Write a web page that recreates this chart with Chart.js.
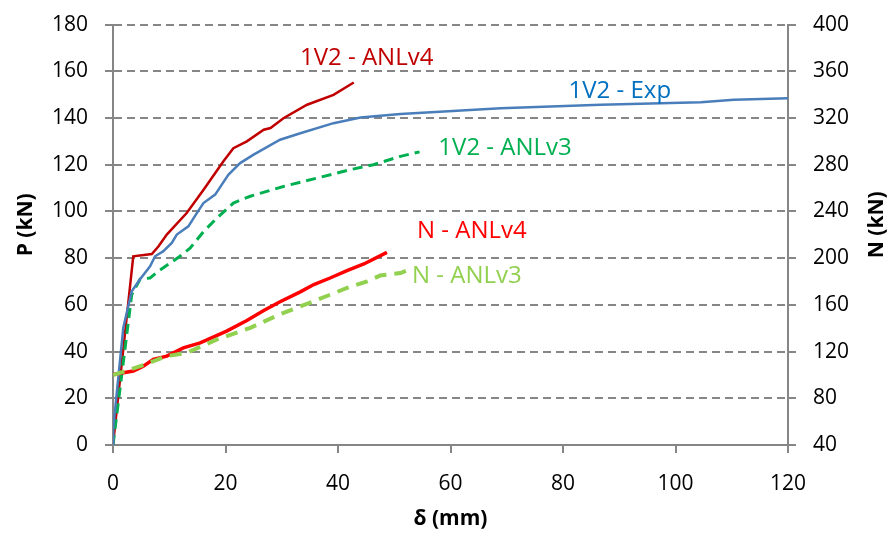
<!DOCTYPE html>
<html>
<head>
<meta charset="utf-8">
<script src="https://cdn.jsdelivr.net/npm/chart.js@4/dist/chart.umd.min.js"></script>
<style>
  html, body { margin: 0; padding: 0; background: #fff; }
  #wrap { width: 891px; height: 533px; position: relative; overflow: hidden; }
  #inner { position: absolute; left: 0; top: -5px; width: 891px; height: 538px; }
</style>
</head>
<body>
<div id="wrap"><div id="inner"><canvas id="chart"></canvas></div></div>
<script>
// P - delta curves (left axis, kN)
const expX = [0, 0.05, 1.83, 3.33, 4.81, 6.59, 7.48, 8.9, 10.45, 11.34, 13.4, 14.9, 16.08, 18.16, 20.5, 22.6, 25, 29.7, 33.3, 39.2, 44, 51.1, 68.9, 86.7, 104.5, 110.4, 120.2];
const expP = [0, 7.4, 50.2, 65.8, 71, 76.5, 80.8, 82.9, 86.5, 90.1, 93.6, 99.3, 103.6, 107.2, 115.7, 120.7, 124.3, 130.7, 133.5, 137.8, 140.2, 141.7, 144.2, 145.7, 146.8, 147.8, 148.5];

const anl4X = [0, 3.6, 6.9, 8.1, 9.56, 13.1, 16.1, 19.6, 21.4, 23.8, 26.8, 28, 30.3, 34.5, 39.2, 42.8];
const anl4P = [0, 80.8, 81.8, 85.1, 90.1, 99.3, 109.3, 121.4, 127.1, 130, 135, 135.7, 139.9, 145.7, 149.9, 155.2];

const anl3X = [0, 3.33, 4.81, 6.59, 8.07, 11.9, 13.7, 16.1, 18.5, 21.4, 24.4, 30.3, 36.3, 42.2, 46.3, 51.1, 54.5];
const anl3P = [0, 64.4, 71, 71.5, 74.4, 80.8, 84.3, 91.4, 97.2, 103.6, 106.5, 110.7, 114.3, 117.9, 120, 123.6, 125.5];

// N - delta curves (right axis, kN)
const nAnl4X = [0, 1.83, 3.61, 5.39, 7.17, 9.56, 12.5, 15.5, 20.2, 23.8, 26.8, 29.7, 33.3, 35.7, 38.6, 41.6, 44.6, 48.7];
const nAnl4N = [100.4, 101.8, 103.3, 107.5, 113.3, 116.1, 123.2, 127.5, 137.5, 146.6, 155.2, 162.7, 171.1, 177.4, 183, 189.4, 195, 205];

const nAnl3X = [0, 5.39, 9.56, 13.1, 18.5, 24.4, 29.7, 35.7, 41.6, 45.2, 47.5, 51.1, 52.6];
const nAnl3N = [99.9, 108.4, 116.1, 118.9, 130.4, 140.3, 152, 163.1, 174.5, 180.2, 185.1, 187.3, 190.2];

// curve labels, anchored in data coordinates (delta, P)
const labelText = ['1V2 - ANLv4', '1V2 - Exp', '1V2 - ANLv3', 'N - ANLv4', 'N - ANLv3'];
const labelX = [45.1, 90.1, 69.7, 63.8, 62.9];
const labelP = [165.5, 151.5, 127.1, 91.7, 72.1];
const labelColor = ['#C00000', '#0070C0', '#00B050', '#FF0000', '#92D050'];

const FONT = '"Open Sans", "DejaVu Sans", sans-serif';
const AXIS = '#868686';

function pts(xs, ys) {
  return xs.map((x, i) => ({ x, y: ys[i] }));
}

const curveLabels = {
  id: 'curveLabels',
  afterDatasetsDraw(chart) {
    const { ctx, scales } = chart;
    ctx.save();
    ctx.font = '24px ' + FONT;
    ctx.textAlign = 'center';
    ctx.textBaseline = 'middle';
    labelText.forEach((t, i) => {
      ctx.fillStyle = labelColor[i];
      ctx.fillText(t, scales.x.getPixelForValue(labelX[i]), scales.y.getPixelForValue(labelP[i]));
    });
    // both axis titles read bottom to top
    ctx.font = 'bold 21px ' + FONT;
    ctx.fillStyle = '#000';
    const mid = (chart.chartArea.top + chart.chartArea.bottom) / 2 - 10;
    [['P (kN)', 26], ['N (kN)', 877]].forEach(([t, x]) => {
      ctx.save();
      ctx.translate(x, mid);
      ctx.rotate(-Math.PI / 2);
      ctx.fillText(t, 0, 0);
      ctx.restore();
    });
    ctx.restore();
  }
};

new Chart(document.getElementById('chart'), {
  type: 'line',
  data: {
    datasets: [
      {
        label: 'N - ANLv3',
        data: pts(nAnl3X, nAnl3N),
        yAxisID: 'y2',
        borderColor: '#92D050',
        borderWidth: 4,
        borderDash: [12, 8],
        pointRadius: 0,
        tension: 0
      },
      {
        label: 'N - ANLv4',
        data: pts(nAnl4X, nAnl4N),
        yAxisID: 'y2',
        borderColor: '#FF0000',
        borderWidth: 3.5,
        pointRadius: 0,
        tension: 0
      },
      {
        label: '1V2 - Exp',
        data: pts(expX, expP),
        yAxisID: 'y',
        borderColor: '#4A7EBB',
        borderWidth: 2.5,
        pointRadius: 0,
        tension: 0
      },
      {
        label: '1V2 - ANLv3',
        data: pts(anl3X, anl3P),
        yAxisID: 'y',
        borderColor: '#00B050',
        borderWidth: 3,
        borderDash: [10, 6],
        pointRadius: 0,
        tension: 0
      },
      {
        label: '1V2 - ANLv4',
        data: pts(anl4X, anl4P),
        yAxisID: 'y',
        borderColor: '#C00000',
        borderWidth: 2.5,
        pointRadius: 0,
        tension: 0
      }
    ]
  },
  options: {
    responsive: true,
    maintainAspectRatio: false,
    animation: false,
    layout: { padding: { top: 18, left: 0, right: 0, bottom: 0 } },
    plugins: {
      legend: { display: false },
      tooltip: { enabled: false }
    },
    scales: {
      x: {
        type: 'linear',
        min: 0,
        max: 120,
        ticks: { stepSize: 20, color: '#000', font: { family: FONT, size: 21 }, padding: 18, maxRotation: 0 },
        grid: { drawOnChartArea: false, drawTicks: true, tickLength: 8, color: AXIS, lineWidth: 2 },
        border: { color: AXIS, width: 2 },
        title: { display: true, text: 'δ (mm)', color: '#000', font: { family: FONT, size: 21, weight: 'bold' }, padding: { top: 0, bottom: 1 } },
        afterFit(s) { s.height = 88; }
      },
      y: {
        position: 'left',
        min: 0,
        max: 180,
        ticks: { stepSize: 20, color: '#000', font: { family: FONT, size: 21 }, padding: 17 },
        grid: { color: AXIS, lineWidth: 2, tickLength: 8, tickBorderDash: [] },
        border: { color: AXIS, width: 2, dash: [8, 5] },
        afterFit(s) { s.width = 113; }
      },
      y2: {
        position: 'right',
        min: 40,
        max: 400,
        ticks: { stepSize: 40, color: '#000', font: { family: FONT, size: 21 }, padding: 17 },
        grid: { drawOnChartArea: false, color: AXIS, lineWidth: 2, tickLength: 8 },
        border: { color: AXIS, width: 2 },
        afterFit(s) { s.width = 103; }
      }
    }
  },
  plugins: [curveLabels]
});
</script>
</body>
</html>
